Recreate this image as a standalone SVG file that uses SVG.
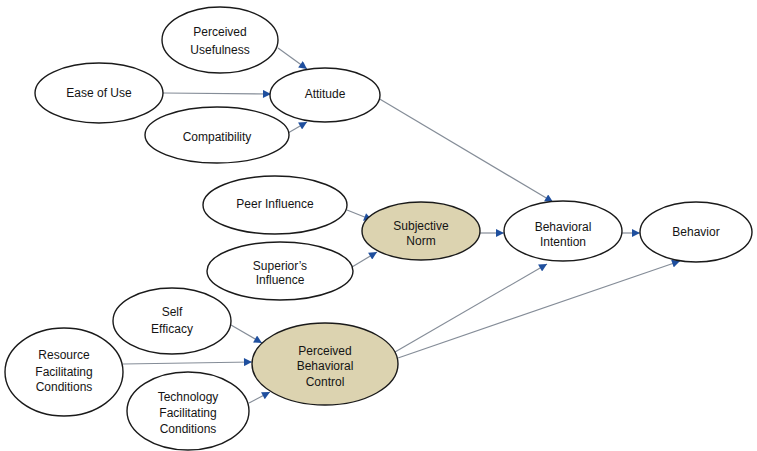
<svg xmlns="http://www.w3.org/2000/svg" width="757" height="451" viewBox="0 0 757 451">
  <style>
    .node ellipse { fill: #ffffff; stroke: #1a1a1a; stroke-width: 1.4; }
    .node.key ellipse { fill: #dcd3b0; }
    .node text { font-family: "Liberation Sans", "DejaVu Sans", sans-serif; font-size: 12px; fill: #141414; text-anchor: middle; }
    #connectors line { stroke: #858d98; stroke-width: 1.2; marker-end: url(#arrow); }
  </style>
  <defs>
    <marker id="arrow" viewBox="0 0 10 10" refX="10" refY="5" markerWidth="9" markerHeight="8" markerUnits="userSpaceOnUse" orient="auto">
      <path d="M0,0 L10,5 L0,10 z" fill="#1f4f9e"/>
    </marker>
  </defs>

  <rect width="757" height="451" fill="#ffffff"/>

  <g id="connectors">
    <line x1="278" y1="48" x2="307" y2="69"/>
    <line x1="163" y1="93" x2="271" y2="94"/>
    <line x1="288" y1="133" x2="307" y2="122"/>
    <line x1="378" y1="98" x2="553" y2="202"/>
    <line x1="347" y1="210" x2="372" y2="220"/>
    <line x1="352" y1="267" x2="377" y2="252"/>
    <line x1="480" y1="233" x2="504" y2="233"/>
    <line x1="622" y1="233" x2="640" y2="233"/>
    <line x1="395" y1="352" x2="547" y2="264"/>
    <line x1="398" y1="358" x2="680" y2="261"/>
    <line x1="231" y1="325" x2="262" y2="343"/>
    <line x1="123" y1="364" x2="252" y2="362"/>
    <line x1="249" y1="403" x2="270" y2="392"/>
  </g>

  <g id="perceived-usefulness" class="node">
    <ellipse cx="220" cy="40" rx="58" ry="33"/>
    <text x="220" y="36">Perceived</text>
    <text x="220" y="54">Usefulness</text>
  </g>
  <g id="ease-of-use" class="node">
    <ellipse cx="99" cy="93" rx="64" ry="30"/>
    <text x="99" y="97">Ease of Use</text>
  </g>
  <g id="attitude" class="node">
    <ellipse cx="325" cy="95" rx="55" ry="27"/>
    <text x="325" y="98">Attitude</text>
  </g>
  <g id="compatibility" class="node">
    <ellipse cx="217" cy="135" rx="72" ry="28"/>
    <text x="217" y="141">Compatibility</text>
  </g>
  <g id="peer-influence" class="node">
    <ellipse cx="275" cy="205" rx="72" ry="29"/>
    <text x="275" y="208">Peer Influence</text>
  </g>
  <g id="subjective-norm" class="node key">
    <ellipse cx="421" cy="231" rx="59" ry="29"/>
    <text x="421" y="230">Subjective</text>
    <text x="421" y="245">Norm</text>
  </g>
  <g id="superiors-influence" class="node">
    <ellipse cx="280" cy="271" rx="73" ry="29"/>
    <text x="280" y="270">Superior’s</text>
    <text x="280" y="284">Influence</text>
  </g>
  <g id="behavioral-intention" class="node">
    <ellipse cx="563" cy="231" rx="59" ry="30"/>
    <text x="563" y="231">Behavioral</text>
    <text x="563" y="246">Intention</text>
  </g>
  <g id="behavior" class="node">
    <ellipse cx="696" cy="232" rx="56" ry="30"/>
    <text x="696" y="236">Behavior</text>
  </g>
  <g id="self-efficacy" class="node">
    <ellipse cx="172" cy="321" rx="59" ry="33"/>
    <text x="172" y="316">Self</text>
    <text x="172" y="333">Efficacy</text>
  </g>
  <g id="resource-facilitating-conditions" class="node">
    <ellipse cx="64" cy="372" rx="59" ry="44"/>
    <text x="64" y="359">Resource</text>
    <text x="64" y="376">Facilitating</text>
    <text x="64" y="391">Conditions</text>
  </g>
  <g id="perceived-behavioral-control" class="node key">
    <ellipse cx="325" cy="364" rx="73" ry="41"/>
    <text x="325" y="355">Perceived</text>
    <text x="325" y="370">Behavioral</text>
    <text x="325" y="386">Control</text>
  </g>
  <g id="technology-facilitating-conditions" class="node">
    <ellipse cx="188" cy="411" rx="61" ry="39"/>
    <text x="188" y="401">Technology</text>
    <text x="188" y="417">Facilitating</text>
    <text x="188" y="433">Conditions</text>
  </g>
</svg>
